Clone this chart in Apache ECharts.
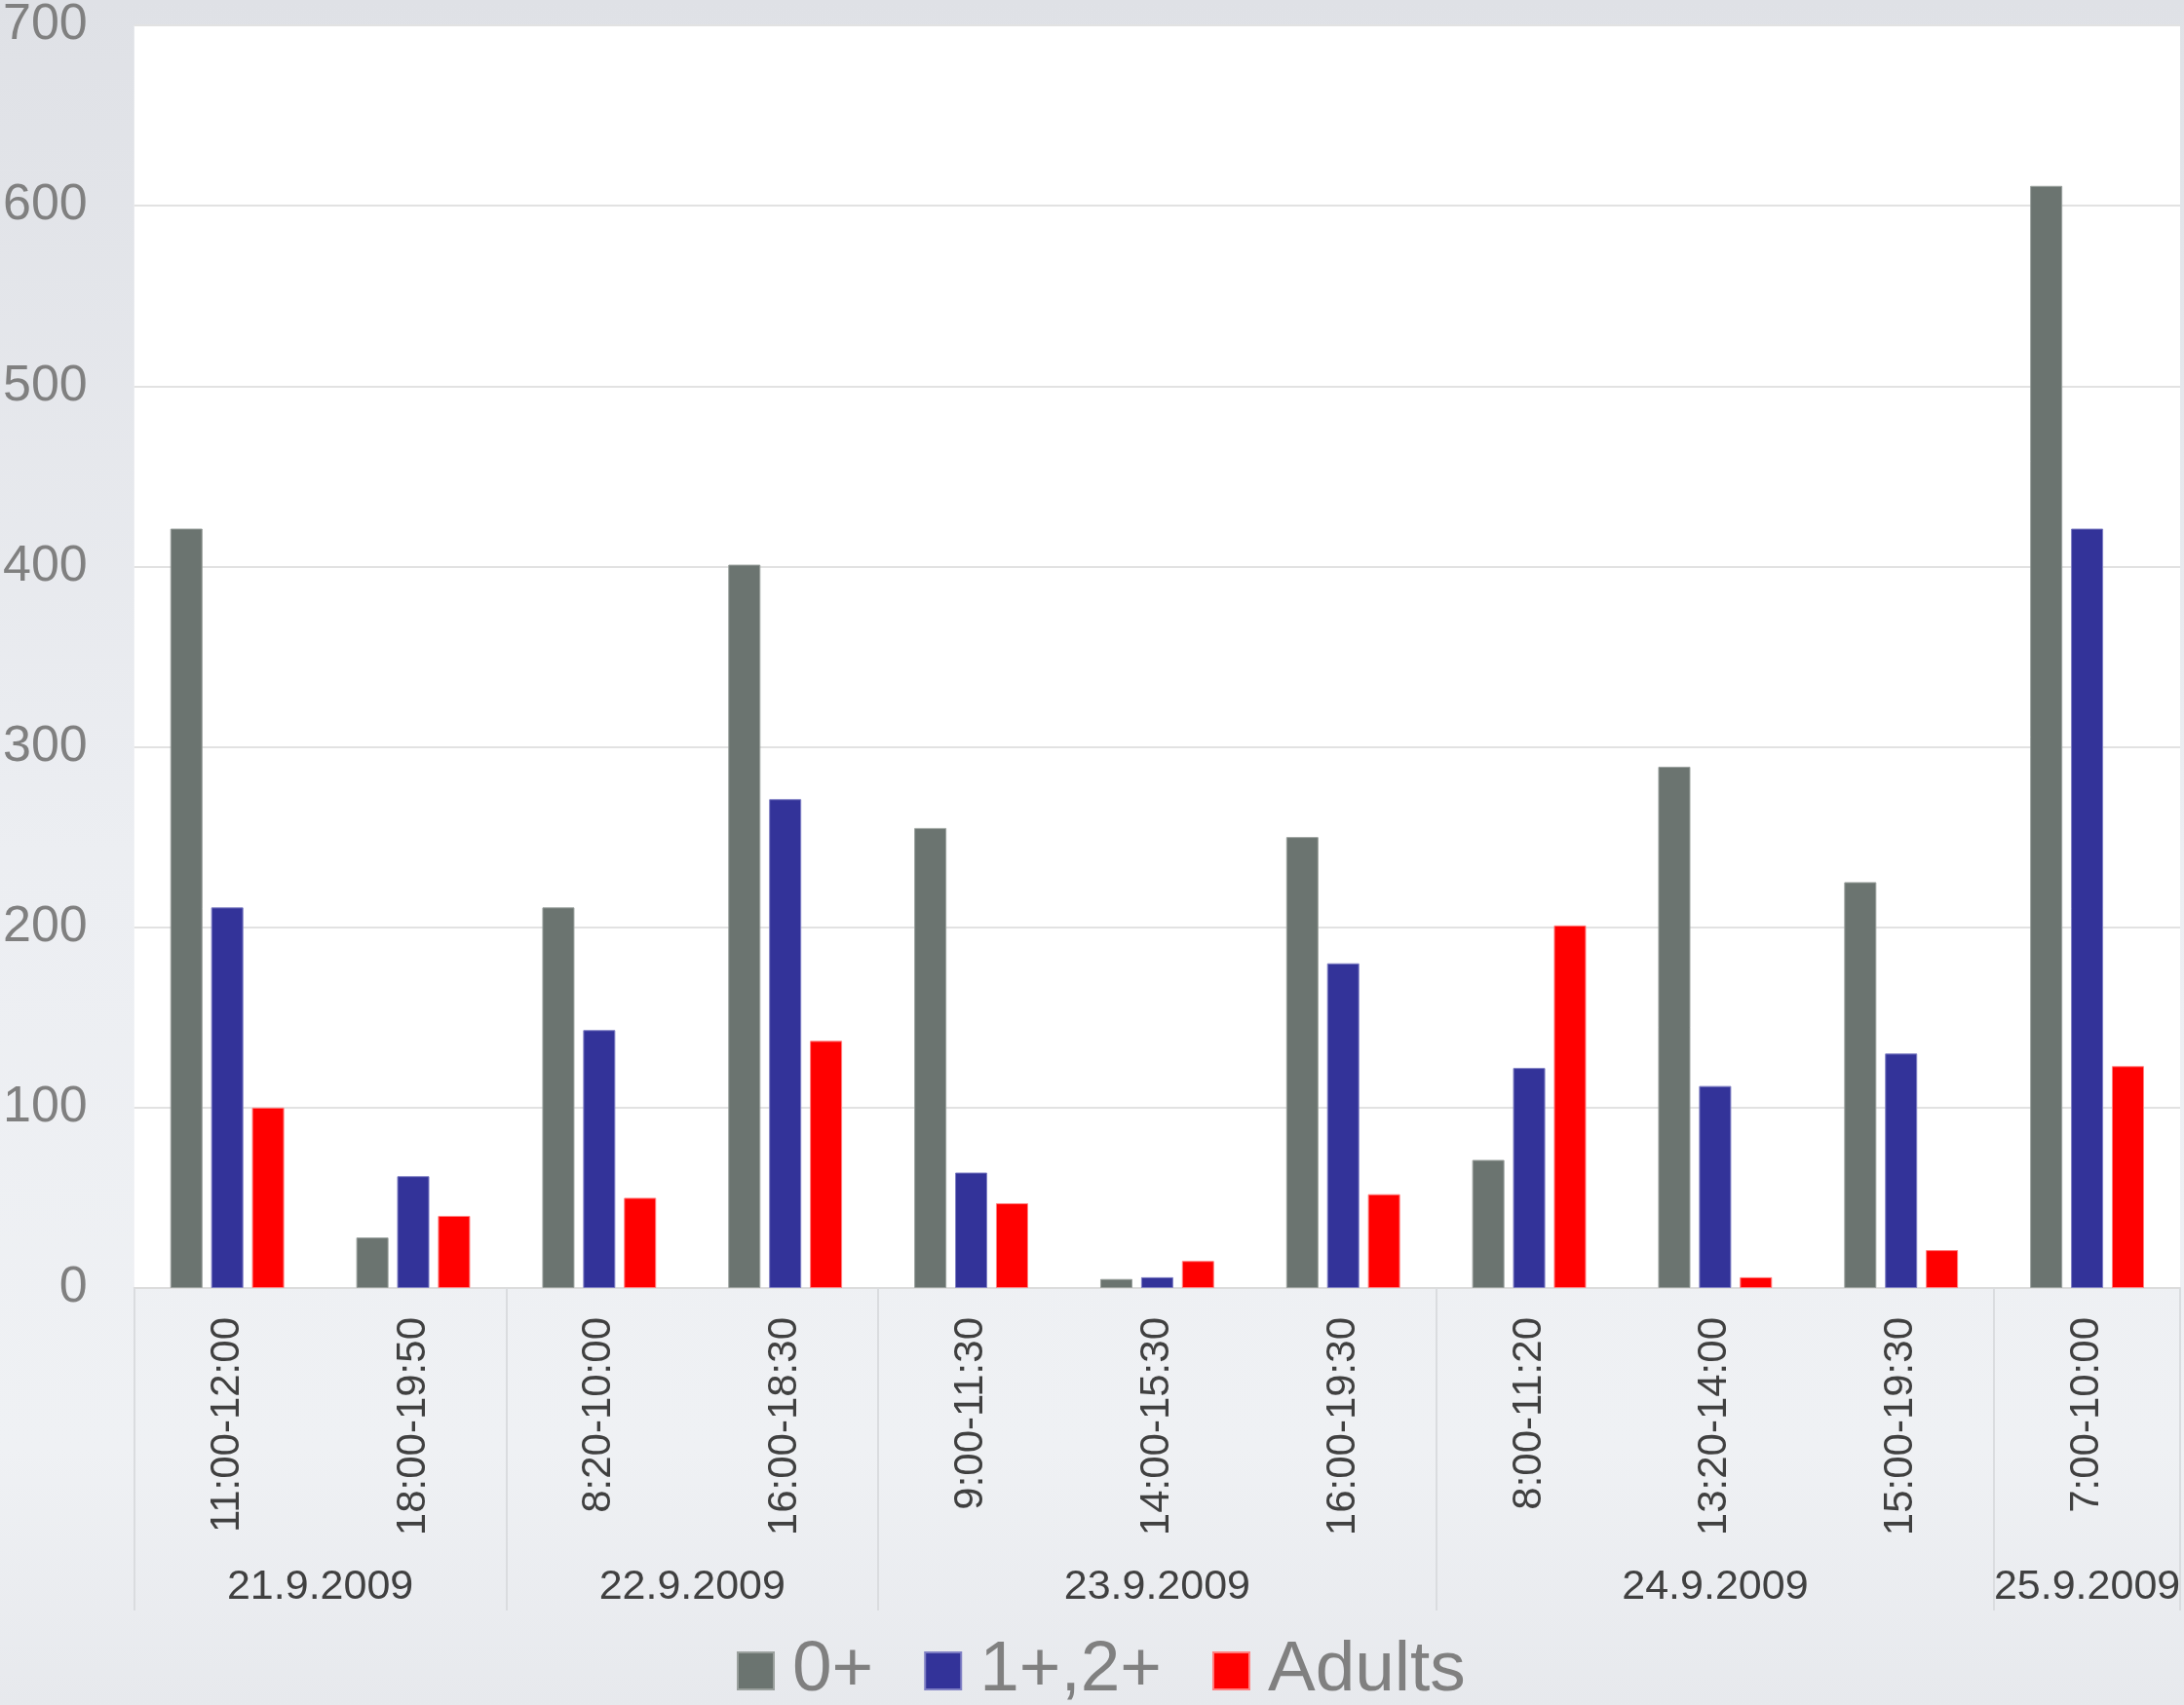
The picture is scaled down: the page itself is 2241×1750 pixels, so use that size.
<!DOCTYPE html>
<html>
<head>
<meta charset="utf-8">
<script src="https://cdn.jsdelivr.net/npm/echarts@6/dist/echarts.min.js"></script>
<style>
  html, body { margin: 0; padding: 0; }
  #main { width: 2241px; height: 1750px; }
</style>
</head>
<body>
<div id="main"></div>
<script>
// time slots (one per bar group)
var times = ['11:00-12:00', '18:00-19:50', '8:20-10:00', '16:00-18:30', '9:00-11:30',
             '14:00-15:30', '16:00-19:30', '8:00-11:20', '13:20-14:00', '15:00-19:30', '7:00-10:00'];
// dates and how many slots each covers
var dates = ['21.9.2009', '22.9.2009', '23.9.2009', '24.9.2009', '25.9.2009'];
var dateSpans = [2, 2, 3, 3, 1];

var fry = [421, 28, 211, 401, 255, 5, 250, 71, 289, 225, 611];     // 0+
var juveniles = [211, 62, 143, 271, 64, 6, 180, 122, 112, 130, 421]; // 1+,2+
var adults = [100, 40, 50, 137, 47, 15, 52, 201, 6, 21, 123];       // Adults

// second axis in half-slot steps: labels at group centres, ticks at group edges
var halfSlots = [];
var edgeIdx = [];
var pos = 0;
edgeIdx.push(0);
for (var i = 0; i <= times.length * 2; i++) halfSlots.push('');
dates.forEach(function (d, k) {
  halfSlots[pos + dateSpans[k]] = d;
  pos += dateSpans[k] * 2;
  edgeIdx.push(pos);
});

var font = 'Liberation Sans, Arial, sans-serif';
var myChart = echarts.init(document.getElementById('main'));

var option = {
  backgroundColor: {
    type: 'linear', x: 0, y: 0, x2: 0, y2: 1,
    colorStops: [
      { offset: 0, color: '#dfe1e6' },
      { offset: 0.5, color: '#eceef2' },
      { offset: 0.85, color: '#eff1f4' },
      { offset: 1, color: '#e7e9ed' }
    ]
  },
  textStyle: { fontFamily: font },
  grid: {
    left: 135, right: 4, top: 26, bottom: 428,
    show: true, backgroundColor: '#ffffff', borderWidth: 0
  },
  legend: {
    left: 756, top: 1670,
    itemWidth: 37, itemHeight: 38, itemGap: 52, padding: 0,
    icon: 'rect',
    textStyle: { fontSize: 73, lineHeight: 90, color: '#808080', fontFamily: font, padding: [0, 0, 0, 14] },
    data: ['0+', '1+,2+', 'Adults']
  },
  xAxis: [{
    type: 'category',
    data: times,
    axisLine: { show: true, lineStyle: { color: '#dcdcdc', width: 2 } },
    axisTick: { show: false },
    axisLabel: {
      rotate: 90, margin: 30, fontSize: 42, color: '#404040', fontFamily: font, interval: 0
    }
  }, {
    type: 'category',
    position: 'bottom',
    boundaryGap: false,
    data: halfSlots,
    axisLine: { show: false },
    axisTick: {
      show: true, length: 331,
      interval: function (idx) { return edgeIdx.indexOf(idx) >= 0; },
      lineStyle: { color: '#dadcdf', width: 2 }
    },
    axisLabel: {
      interval: 0, margin: 286, fontSize: 43, color: '#404040', fontFamily: font
    }
  }],
  yAxis: {
    type: 'value',
    min: 0, max: 700, interval: 100,
    axisLine: { show: false },
    axisTick: { show: false },
    axisLabel: { fontSize: 52, color: '#808080', margin: 48, fontFamily: font },
    splitLine: { lineStyle: { color: '#e2e2e2', width: 2 } }
  },
  series: [{
    name: '0+', type: 'bar', data: fry, barWidth: 33, barGap: '27%',
    itemStyle: { color: '#6b7470', borderColor: '#9aa09d', borderWidth: 1 }
  }, {
    name: '1+,2+', type: 'bar', data: juveniles, barWidth: 33, barGap: '27%',
    itemStyle: { color: '#333399', borderColor: '#7f7fc4', borderWidth: 1 }
  }, {
    name: 'Adults', type: 'bar', data: adults, barWidth: 33, barGap: '27%',
    itemStyle: { color: '#ff0000', borderColor: '#ff7f7f', borderWidth: 1 }
  }]
};

myChart.setOption(option);
</script>
</body>
</html>
